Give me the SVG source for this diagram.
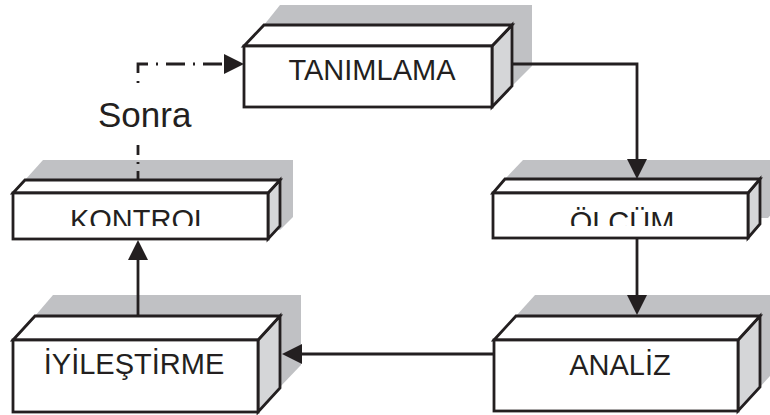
<svg xmlns="http://www.w3.org/2000/svg" width="770" height="415" viewBox="0 0 770 415">
  <style>
    .shadow { fill: #c0c1c4; stroke: none; }
    .front { fill: #ffffff; stroke: #231f20; stroke-width: 2.8; stroke-linejoin: miter; }
    .top { fill: #ffffff; stroke: #231f20; stroke-width: 2.8; stroke-linejoin: miter; }
    .side { fill: #d5d6d8; stroke: #231f20; stroke-width: 2.8; stroke-linejoin: miter; }
    .label { font-family: "Liberation Sans", Arial, sans-serif; font-size: 29px; fill: #231f20; text-anchor: middle; }
    .note { font-family: "Liberation Sans", Arial, sans-serif; font-size: 35px; fill: #231f20; }
    .link { fill: none; stroke: #231f20; stroke-width: 2.8; }
    .dashdot { fill: none; stroke: #231f20; stroke-width: 2.8; }
  </style>
  <defs>
    <marker id="arrow" markerUnits="userSpaceOnUse" markerWidth="21" markerHeight="21" refX="9" refY="10" orient="auto">
      <path d="M0,0 L20,10 L0,20 z" fill="#231f20"/>
    </marker>
    <clipPath id="clip-kontrol"><rect x="0" y="195" width="300" height="31"/></clipPath>
    <clipPath id="clip-olcum"><rect x="480" y="195" width="290" height="31"/></clipPath>
  </defs>

  <!-- TANIMLAMA -->
  <g id="node-tanimlama">
    <polygon class="shadow" points="264,25 280,5 532,5 532,66 512,86"/>
    <polygon class="side" points="492,46 512,25 512,86 492,107"/>
    <polygon class="top" points="244,46 264,25 512,25 492,46"/>
    <rect class="front" x="244" y="46" width="248" height="61"/>
    <text class="label" x="372" y="80">TANIMLAMA</text>
  </g>

  <!-- ÖLÇÜM -->
  <g id="node-olcum">
    <polygon class="shadow" points="505,179 523,160 780,160 780,204 768,218 760,218"/>
    <polygon class="side" points="748,193 760,179 760,224 748,238"/>
    <polygon class="top" points="493,193 505,179 760,179 748,193"/>
    <rect class="front" x="493" y="193" width="255" height="45"/>
    <text class="label" x="622" y="232" clip-path="url(#clip-olcum)">ÖLÇÜM</text>
  </g>

  <!-- KONTROL -->
  <g id="node-kontrol">
    <polygon class="shadow" points="25,180 43,160 293,160 293,217 280,230"/>
    <polygon class="side" points="268,193 280,180 280,226 268,239"/>
    <polygon class="top" points="13,193 25,180 280,180 268,193"/>
    <rect class="front" x="13" y="193" width="255" height="46"/>
    <text class="label" x="140" y="230" clip-path="url(#clip-kontrol)">KONTROL</text>
  </g>

  <!-- İYİLEŞTİRME -->
  <g id="node-iyilestirme">
    <polygon class="shadow" points="35,316 53,295 301,295 301,365 280,387"/>
    <polygon class="side" points="258,340 280,316 280,388 258,412"/>
    <polygon class="top" points="13,340 35,316 280,316 258,340"/>
    <rect class="front" x="13" y="340" width="245" height="72"/>
    <text class="label" x="134" y="374">İYİLEŞTİRME</text>
  </g>

  <!-- ANALİZ -->
  <g id="node-analiz">
    <polygon class="shadow" points="516,316 535,295 780,295 780,365 760,387"/>
    <polygon class="side" points="738,340 760,316 760,387 738,411"/>
    <polygon class="top" points="494,340 516,316 760,316 738,340"/>
    <rect class="front" x="494" y="340" width="244" height="71"/>
    <text class="label" x="620" y="375">ANALİZ</text>
  </g>

  <!-- connectors -->
  <g id="connectors">
    <path class="link" d="M512,64 H637 V168" marker-end="url(#arrow)"/>
    <path class="link" d="M637,238 V304" marker-end="url(#arrow)"/>
    <path class="link" d="M494,354 H293" marker-end="url(#arrow)"/>
    <path class="link" d="M138,316 V251" marker-end="url(#arrow)"/>
    <path class="dashdot" d="M138,145 V180" stroke-dasharray="10 7 2 7"/>
    <path class="dashdot" d="M138,83 V64 H224" stroke-dasharray="2 8 19 8"/>
    <path class="link" d="M224,64 H233" marker-end="url(#arrow)"/>
    <text class="note" x="98" y="127">Sonra</text>
  </g>
</svg>
